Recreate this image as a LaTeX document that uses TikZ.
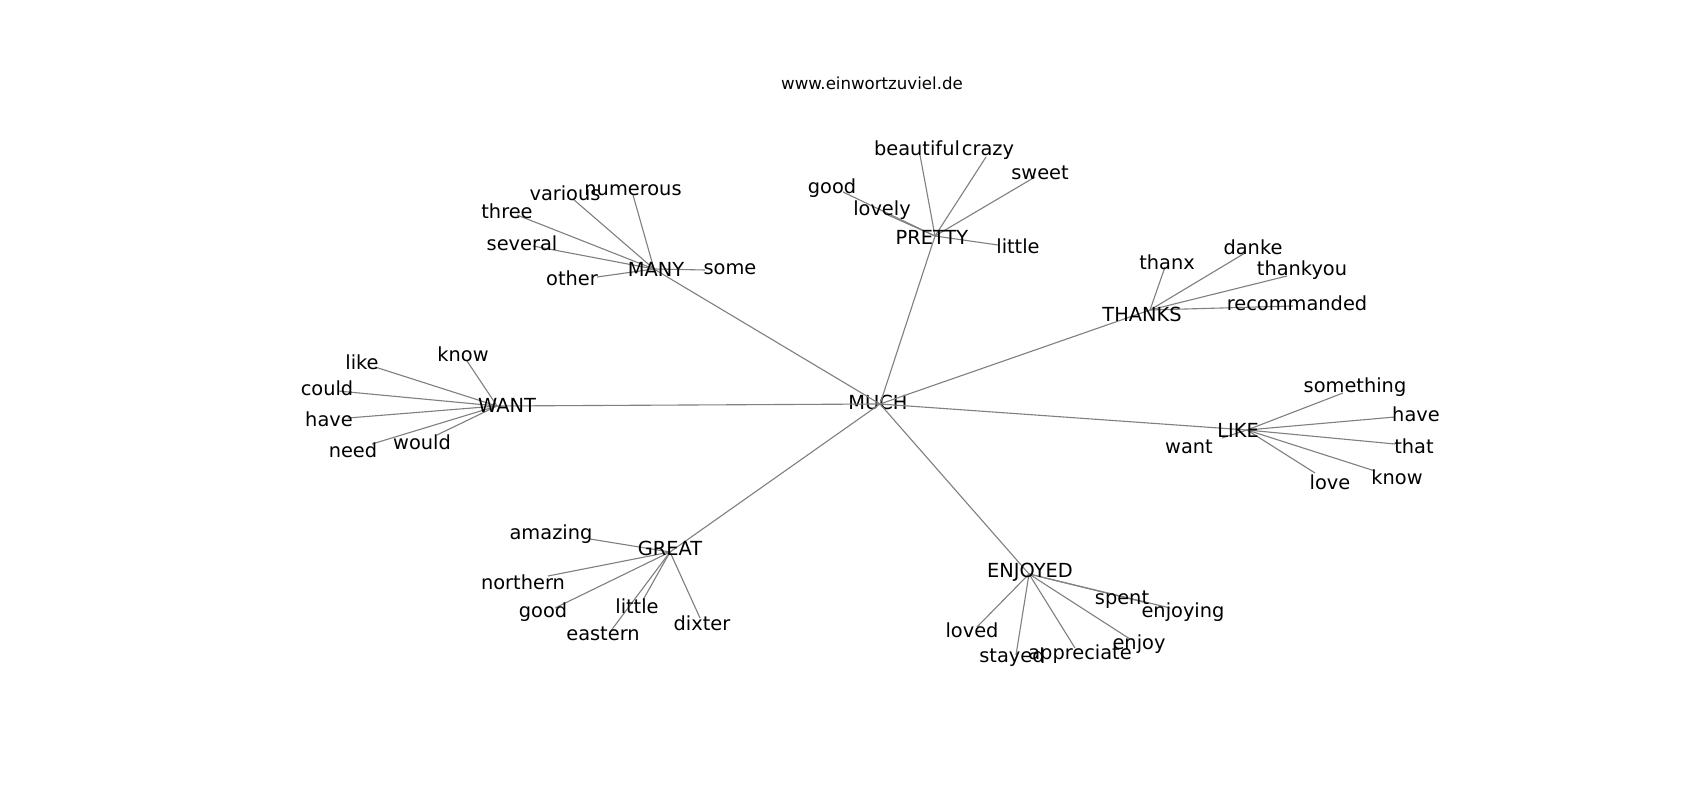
\documentclass[tikz,border=0pt]{standalone}
\usepackage{fontspec}
\setmainfont{DejaVu Sans}
\begin{document}
\begin{tikzpicture}[x=0.01in,y=-0.01in,
  word/.style={inner sep=0pt,font=\fontsize{14}{17}\selectfont},
  link/.style={draw,color=black!50,line width=0.8pt}]
\fill[white] (0,0) rectangle (1700,800);
\useasboundingbox (0,0) rectangle (1700,800);
\node[inner sep=0pt,font=\fontsize{12}{14}\selectfont] (title) at (872,83) {www.einwortzuviel.de};
% centre word
\coordinate (much-pt) at (880,404);
\node[word] (much) at (878,402) {MUCH};
% MANY
\begin{scope}
\coordinate (many-pt) at (654,269);
\coordinate (many-numerous-pt) at (633,195);
\coordinate (many-various-pt) at (573,199);
\coordinate (many-three-pt) at (517,215);
\coordinate (many-several-pt) at (533,246);
\coordinate (many-other-pt) at (597,277);
\coordinate (many-some-pt) at (705,270);
\path[link] (much-pt) -- (many-pt);
\path[link] (many-pt) -- (many-numerous-pt);
\path[link] (many-pt) -- (many-various-pt);
\path[link] (many-pt) -- (many-three-pt);
\path[link] (many-pt) -- (many-several-pt);
\path[link] (many-pt) -- (many-other-pt);
\path[link] (many-pt) -- (many-some-pt);
\node[word] (many) at (656,269) {MANY};
\node[word] (many-numerous) at (633,190) {numerous};
\node[word] (many-various) at (565,193) {various};
\node[word] (many-three) at (507,211) {three};
\node[word] (many-several) at (522,243) {several};
\node[word] (many-other) at (572,278) {other};
\node[word] (many-some) at (730,269) {some};
\end{scope}
% PRETTY
\begin{scope}
\coordinate (pretty-pt) at (935,236);
\coordinate (pretty-beautiful-pt) at (920,155);
\coordinate (pretty-crazy-pt) at (986,157);
\coordinate (pretty-sweet-pt) at (1035,177);
\coordinate (pretty-good-pt) at (843,192);
\coordinate (pretty-lovely-pt) at (888,215);
\coordinate (pretty-little-pt) at (998,245);
\path[link] (much-pt) -- (pretty-pt);
\path[link] (pretty-pt) -- (pretty-beautiful-pt);
\path[link] (pretty-pt) -- (pretty-crazy-pt);
\path[link] (pretty-pt) -- (pretty-sweet-pt);
\path[link] (pretty-pt) -- (pretty-good-pt);
\path[link] (pretty-pt) -- (pretty-lovely-pt);
\path[link] (pretty-pt) -- (pretty-little-pt);
\node[word] (pretty) at (932,237) {PRETTY};
\node[word] (pretty-beautiful) at (917,148) {beautiful};
\node[word] (pretty-crazy) at (988,152) {crazy};
\node[word] (pretty-sweet) at (1040,173) {sweet};
\node[word] (pretty-good) at (832,188) {good};
\node[word] (pretty-lovely) at (882,210) {lovely};
\node[word] (pretty-little) at (1018,246) {little};
\end{scope}
% THANKS
\begin{scope}
\coordinate (thanks-pt) at (1150,310);
\coordinate (thanks-thanx-pt) at (1165,267);
\coordinate (thanks-danke-pt) at (1245,253);
\coordinate (thanks-thankyou-pt) at (1287,276);
\coordinate (thanks-recommanded-pt) at (1293,306);
\path[link] (much-pt) -- (thanks-pt);
\path[link] (thanks-pt) -- (thanks-thanx-pt);
\path[link] (thanks-pt) -- (thanks-danke-pt);
\path[link] (thanks-pt) -- (thanks-thankyou-pt);
\path[link] (thanks-pt) -- (thanks-recommanded-pt);
\node[word] (thanks) at (1142,314) {THANKS};
\node[word] (thanks-thanx) at (1167,262) {thanx};
\node[word] (thanks-danke) at (1253,247) {danke};
\node[word] (thanks-thankyou) at (1302,270) {thankyou};
\node[word] (thanks-recommanded) at (1297,303) {recommanded};
\end{scope}
% WANT
\begin{scope}
\coordinate (want-pt) at (497,406);
\coordinate (want-know-pt) at (467,361);
\coordinate (want-like-pt) at (375,367);
\coordinate (want-could-pt) at (338,391);
\coordinate (want-have-pt) at (348,418);
\coordinate (want-need-pt) at (372,444);
\coordinate (want-would-pt) at (437,435);
\path[link] (much-pt) -- (want-pt);
\path[link] (want-pt) -- (want-know-pt);
\path[link] (want-pt) -- (want-like-pt);
\path[link] (want-pt) -- (want-could-pt);
\path[link] (want-pt) -- (want-have-pt);
\path[link] (want-pt) -- (want-need-pt);
\path[link] (want-pt) -- (want-would-pt);
\node[word] (want) at (507,405) {WANT};
\node[word] (want-know) at (463,354) {know};
\node[word] (want-like) at (362,362) {like};
\node[word] (want-could) at (327,388) {could};
\node[word] (want-have) at (329,419) {have};
\node[word] (want-need) at (353,450) {need};
\node[word] (want-would) at (422,442) {would};
\end{scope}
% LIKE
\begin{scope}
\coordinate (like-pt) at (1247,430);
\coordinate (like-something-pt) at (1343,393);
\coordinate (like-have-pt) at (1395,417);
\coordinate (like-that-pt) at (1395,444);
\coordinate (like-know-pt) at (1375,471);
\coordinate (like-love-pt) at (1315,473);
\coordinate (like-want-pt) at (1222,438);
\path[link] (much-pt) -- (like-pt);
\path[link] (like-pt) -- (like-something-pt);
\path[link] (like-pt) -- (like-have-pt);
\path[link] (like-pt) -- (like-that-pt);
\path[link] (like-pt) -- (like-know-pt);
\path[link] (like-pt) -- (like-love-pt);
\path[link] (like-pt) -- (like-want-pt);
\node[word] (like) at (1238,430) {LIKE};
\node[word] (like-something) at (1355,387) {something};
\node[word] (like-have) at (1416,414) {have};
\node[word] (like-that) at (1414,446) {that};
\node[word] (like-know) at (1397,477) {know};
\node[word] (like-love) at (1330,482) {love};
\node[word] (like-want) at (1189,447) {want};
\end{scope}
% GREAT
\begin{scope}
\coordinate (great-pt) at (670,552);
\coordinate (great-amazing-pt) at (590,539);
\coordinate (great-northern-pt) at (548,576);
\coordinate (great-good-pt) at (555,608);
\coordinate (great-little-pt) at (643,600);
\coordinate (great-eastern-pt) at (610,632);
\coordinate (great-dixter-pt) at (700,618);
\path[link] (much-pt) -- (great-pt);
\path[link] (great-pt) -- (great-amazing-pt);
\path[link] (great-pt) -- (great-northern-pt);
\path[link] (great-pt) -- (great-good-pt);
\path[link] (great-pt) -- (great-little-pt);
\path[link] (great-pt) -- (great-eastern-pt);
\path[link] (great-pt) -- (great-dixter-pt);
\node[word] (great) at (670,548) {GREAT};
\node[word] (great-amazing) at (551,534) {amazing};
\node[word] (great-northern) at (523,582) {northern};
\node[word] (great-good) at (543,612) {good};
\node[word] (great-little) at (637,606) {little};
\node[word] (great-eastern) at (603,634) {eastern};
\node[word] (great-dixter) at (702,623) {dixter};
\end{scope}
% ENJOYED
\begin{scope}
\coordinate (enjoyed-pt) at (1029,574);
\coordinate (enjoyed-spent-pt) at (1143,602);
\coordinate (enjoyed-enjoying-pt) at (1170,608);
\coordinate (enjoyed-enjoy-pt) at (1130,639);
\coordinate (enjoyed-appreciate-pt) at (1075,648);
\coordinate (enjoyed-stayed-pt) at (1016,655);
\coordinate (enjoyed-loved-pt) at (977,627);
\path[link] (much-pt) -- (enjoyed-pt);
\path[link] (enjoyed-pt) -- (enjoyed-spent-pt);
\path[link] (enjoyed-pt) -- (enjoyed-enjoying-pt);
\path[link] (enjoyed-pt) -- (enjoyed-enjoy-pt);
\path[link] (enjoyed-pt) -- (enjoyed-appreciate-pt);
\path[link] (enjoyed-pt) -- (enjoyed-stayed-pt);
\path[link] (enjoyed-pt) -- (enjoyed-loved-pt);
\node[word] (enjoyed) at (1030,572) {ENJOYED};
\node[word] (enjoyed-spent) at (1122,600) {spent};
\node[word] (enjoyed-enjoying) at (1183,612) {enjoying};
\node[word] (enjoyed-enjoy) at (1139,644) {enjoy};
\node[word] (enjoyed-appreciate) at (1080,654) {appreciate};
\node[word] (enjoyed-stayed) at (1012,657) {stayed};
\node[word] (enjoyed-loved) at (972,630) {loved};
\end{scope}
\end{tikzpicture}
\end{document}
